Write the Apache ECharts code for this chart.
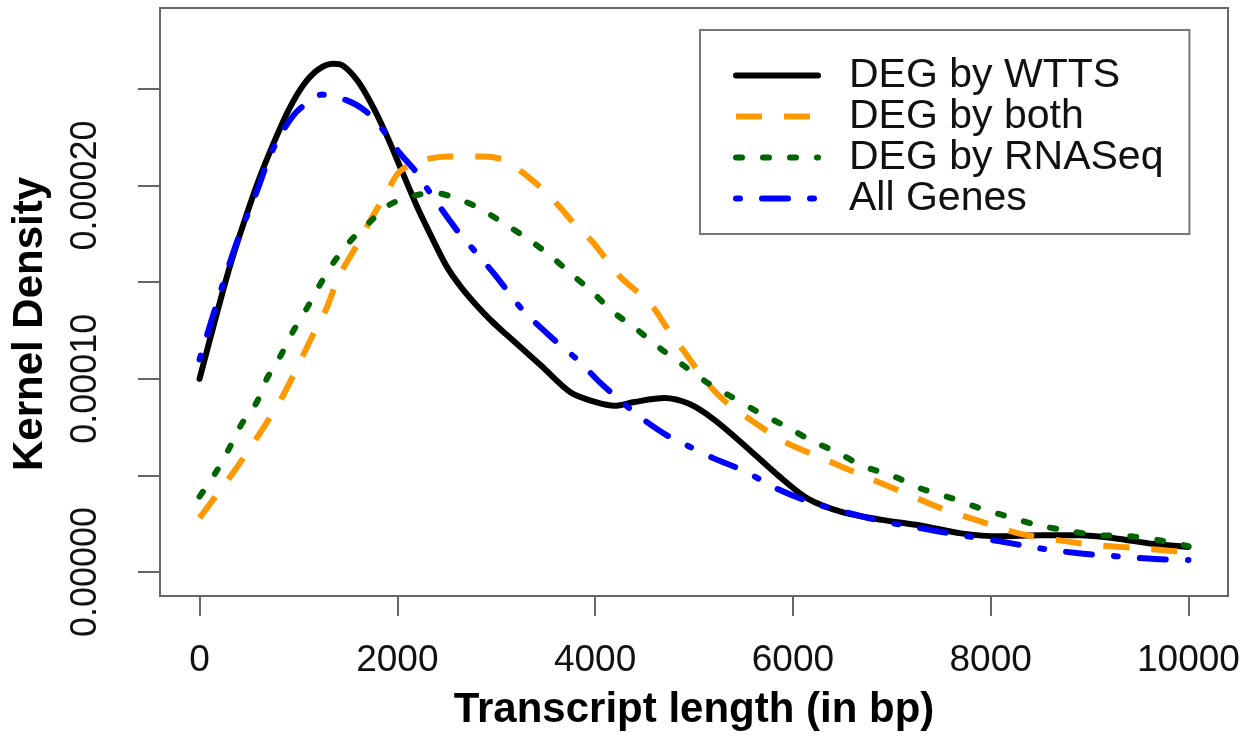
<!DOCTYPE html>
<html>
<head>
<meta charset="utf-8">
<script src="https://cdn.jsdelivr.net/npm/echarts@6/dist/echarts.min.js"></script>
<style>
  html, body { margin: 0; padding: 0; background: #fff; }
  #kde-chart { width: 1258px; height: 736px; }
</style>
</head>
<body>
<div id="kde-chart"></div>
<script>
// densities are in units of 1e-5
const lenWtts = [0, 150, 300, 450, 600, 750, 900, 1050, 1200, 1350, 1450, 1600, 1750, 1900, 2050, 2200, 2350, 2500, 2650, 2800, 2950, 3100, 3450, 3750, 4000, 4200, 4400, 4700, 4950, 5200, 5500, 5850, 6150, 6500, 6900, 7300, 7700, 8100, 8500, 8900, 9250, 9650, 10000];
const denWtts = [10.0, 12.9, 15.7, 18.1, 20.3, 22.2, 23.9, 25.2, 26.0, 26.3, 26.2, 25.4, 24.1, 22.5, 20.7, 18.9, 17.3, 15.8, 14.7, 13.8, 13.0, 12.3, 10.7, 9.3, 8.8, 8.6, 8.8, 9.0, 8.7, 7.9, 6.6, 5.0, 3.8, 3.1, 2.7, 2.4, 2.0, 1.85, 1.9, 1.9, 1.75, 1.45, 1.3];

const lenBoth = [0, 170, 370, 640, 810, 980, 1140, 1280, 1410, 1590, 1750, 1890, 2020, 2250, 2520, 2860, 3100, 3260, 3470, 3640, 3810, 3970, 4140, 4250, 4570, 4730, 4930, 5120, 5320, 5600, 5910, 6300, 6700, 7090, 7500, 7890, 8280, 8680, 9070, 9470, 9860, 10000];
const denBoth = [2.8, 3.97, 5.36, 7.42, 8.81, 10.5, 12.2, 13.6, 15.3, 16.9, 18.4, 19.6, 20.7, 21.3, 21.5, 21.5, 21.3, 20.7, 19.8, 18.9, 17.9, 17.1, 16.0, 15.3, 13.8, 12.6, 11.2, 9.85, 8.81, 7.78, 6.75, 5.88, 5.0, 4.18, 3.3, 2.63, 2.0, 1.65, 1.39, 1.24, 1.08, 1.03];

const lenRna = [0, 170, 300, 430, 580, 680, 810, 940, 1080, 1210, 1340, 1520, 1720, 1920, 2190, 2390, 2560, 2800, 3060, 3300, 3540, 3740, 3970, 4170, 4410, 4650, 4890, 5120, 5360, 5640, 5910, 6190, 6470, 6700, 7020, 7290, 7610, 7890, 8160, 8480, 8760, 9070, 9380, 9700, 10000];
const denRna = [3.9, 5.2, 6.4, 7.7, 8.8, 10.0, 11.1, 12.4, 13.6, 14.8, 15.9, 17.1, 18.1, 19.0, 19.5, 19.6, 19.4, 18.9, 18.1, 17.3, 16.4, 15.5, 14.5, 13.5, 12.6, 11.6, 10.7, 9.85, 9.12, 8.3, 7.58, 6.8, 6.13, 5.5, 4.95, 4.33, 3.81, 3.3, 2.89, 2.42, 2.16, 1.91, 1.86, 1.65, 1.34];

const lenAll = [0, 230, 400, 580, 710, 840, 980, 1180, 1240, 1490, 1690, 1850, 2020, 2190, 2320, 2600, 2800, 3000, 3260, 3610, 3840, 4040, 4250, 4460, 4730, 4930, 5200, 5520, 5830, 6150, 6500, 6900, 7290, 7690, 8080, 8480, 8870, 9260, 9660, 10000];
const denAll = [11.0, 14.8, 17.4, 19.7, 21.5, 22.8, 23.8, 24.6, 24.7, 24.4, 23.8, 22.9, 21.7, 20.7, 19.7, 17.7, 16.5, 15.3, 13.6, 11.9, 10.9, 9.85, 8.9, 8.0, 7.06, 6.55, 5.88, 5.2, 4.33, 3.66, 3.14, 2.63, 2.27, 1.91, 1.6, 1.24, 0.98, 0.82, 0.67, 0.62];

const xTicks = [0, 2000, 4000, 6000, 8000, 10000];
const yTicks = [0, 0.00005, 0.0001, 0.00015, 0.0002, 0.00025];
const yLabels = [0, 0.0001, 0.0002];

const names = ['DEG by WTTS', 'DEG by both', 'DEG by RNASeq', 'All Genes'];

const pairs = (xs, ys) => xs.map((x, i) => [x, ys[i] / 1e5]);

const font = 'Liberation Sans, Arial, Helvetica, sans-serif';

const makeLine = (name, data, color, type, cap) => ({
  name: name,
  type: 'line',
  smooth: 0.3,
  symbol: 'none',
  showSymbol: false,
  data: data,
  lineStyle: { color: color, width: 6, type: type, cap: cap },
  itemStyle: { color: color }
});

const option = {
  backgroundColor: '#fff',
  animation: false,
  textStyle: { fontFamily: font },
  grid: {
    left: 160,
    right: 30,
    top: 8,
    bottom: 138,
    show: true,
    borderColor: '#666',
    borderWidth: 2,
    backgroundColor: 'transparent'
  },
  legend: {
    orient: 'vertical',
    left: 700,
    top: 30,
    padding: [25, 26, 15, 33],
    borderColor: '#777',
    borderWidth: 2,
    itemWidth: 82,
    itemHeight: 20,
    itemGap: 0,
    selectedMode: false,
    itemStyle: { opacity: 0 },
    lineStyle: { width: 6 },
    textStyle: {
      fontFamily: font,
      fontSize: 41,
      lineHeight: 41,
      color: '#111',
      padding: [0, 0, 0, 26]
    },
    data: names
  },
  xAxis: {
    type: 'value',
    min: -400,
    max: 10400,
    splitLine: { show: false },
    axisLine: { show: false, onZero: false },
    axisTick: {
      show: true,
      length: 20,
      customValues: xTicks,
      lineStyle: { color: '#666', width: 2 }
    },
    axisLabel: {
      customValues: xTicks,
      formatter: v => String(v),
      margin: 46,
      fontSize: 37,
      color: '#111',
      fontFamily: font
    },
    name: 'Transcript length (in bp)',
    nameLocation: 'middle',
    nameGap: 93,
    nameTextStyle: {
      fontFamily: font,
      fontWeight: 'bold',
      fontSize: 42,
      color: '#000'
    }
  },
  yAxis: {
    type: 'value',
    min: -0.0000124,
    max: 0.0002918,
    splitLine: { show: false },
    axisLine: { show: false, onZero: false },
    axisTick: {
      show: true,
      length: 22,
      customValues: yTicks,
      lineStyle: { color: '#666', width: 2 }
    },
    axisLabel: {
      customValues: yLabels,
      formatter: v => v.toFixed(5),
      rotate: 90,
      margin: 56,
      fontSize: 36,
      color: '#111',
      fontFamily: font
    },
    name: 'Kernel Density',
    nameLocation: 'middle',
    nameRotate: 90,
    nameGap: 109,
    nameTextStyle: {
      fontFamily: font,
      fontWeight: 'bold',
      fontSize: 42,
      color: '#000',
      padding: [0, 44, 0, 0]
    }
  },
  series: [
    makeLine(names[0], pairs(lenWtts, denWtts), '#000000', 'solid', 'round'),
    makeLine(names[1], pairs(lenBoth, denBoth), '#FF9900', [26, 22], 'butt'),
    makeLine(names[2], pairs(lenRna, denRna), '#006400', [6, 21], 'round'),
    makeLine(names[3], pairs(lenAll, denAll), '#0000FF', [4, 22, 26, 22], 'round')
  ]
};

const chart = echarts.init(document.getElementById('kde-chart'));
chart.setOption(option);
</script>
</body>
</html>
